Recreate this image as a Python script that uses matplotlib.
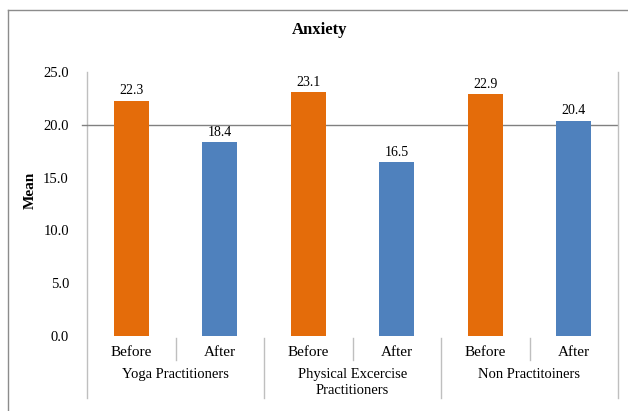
import matplotlib.pyplot as plt
from matplotlib.lines import Line2D

groups = ["Yoga Practitioners", "Physical Excercise\nPractitioners", "Non Practitoiners"]
phases = ["Before", "After"]
before = [22.3, 23.1, 22.9]
after = [18.4, 16.5, 20.4]
yticks = [0.0, 5.0, 10.0, 15.0, 20.0, 25.0]

orange = "#E46C0A"
blue = "#4F81BD"
grey = "#BFBFBF"

plt.rcParams["font.family"] = ["Liberation Serif", "DejaVu Serif"]

fig = plt.figure(figsize=(6.28, 4.11), dpi=100)
W, H = 628, 411

def fx(px):
    return px / W

def fy(py):
    return 1 - py / H

def vline(x, y0, y1, color=grey):
    fig.lines.append(Line2D([fx(x), fx(x)], [fy(y0), fy(y1)], color=color,
                            linewidth=1.0, transform=fig.transFigure))

# chart frame (only its top and left edges fall inside the image)
fig.lines.append(Line2D([fx(8), fx(628)], [fy(10), fy(10)], color="#8C8C8C",
                        linewidth=1.0, transform=fig.transFigure))
vline(8, 10, 411, color="#8C8C8C")

x0, x1, ytop, ybot = 87, 618, 72, 336
ax = fig.add_axes([fx(x0), fy(ybot), fx(x1) - fx(x0), fy(ytop) - fy(ybot)])

values = []
colors = []
for b, a in zip(before, after):
    values += [b, a]
    colors += [orange, blue]

xs = [i + 0.5 for i in range(len(values))]
ax.bar(xs, values, width=0.39, color=colors, zorder=3)
for x, v in zip(xs, values):
    ax.text(x, v + 0.3, f"{v:.1f}", ha="center", va="bottom", fontsize=10)

ax.set_xlim(0, 6)
ax.set_ylim(0, 25)
ax.set_yticks(yticks)
ax.set_yticklabels([f"{t:.1f}" for t in yticks], fontsize=10.5)
ax.set_xticks([])
ax.tick_params(axis="y", length=0, pad=13)
ax.axhline(20, color="#808080", linewidth=1.0, zorder=2)
for s in ["top", "right", "bottom", "left"]:
    ax.spines[s].set_visible(False)

fig.text(fx(30), fy(190), "Mean", rotation=90, ha="center", va="center",
         fontsize=11, fontweight="bold")
fig.text(fx(320), fy(30), "Anxiety", ha="center", va="center",
         fontsize=12, fontweight="bold")

# axis lines and category separators
vline(x0, ytop, 398)
vline(x1, ytop, 398)
fig.lines.append(Line2D([fx(82), fx(x0)], [fy(125), fy(125)], color="#808080",
                        linewidth=1.0, transform=fig.transFigure))
slot = (x1 - x0) / 6
for i in range(1, 6):
    x = x0 + slot * i
    vline(x, 338, 398 if i % 2 == 0 else 360)

for i, x in enumerate(xs):
    fig.text(fx(x0 + slot * x), fy(352), phases[i % 2], ha="center",
             va="center", fontsize=11)
for g, name in enumerate(groups):
    fig.text(fx(x0 + slot * (2 * g + 1)), fy(368), name, ha="center", va="top",
             fontsize=10.5, linespacing=1.3)

fig.savefig("out.png", dpi=100)
